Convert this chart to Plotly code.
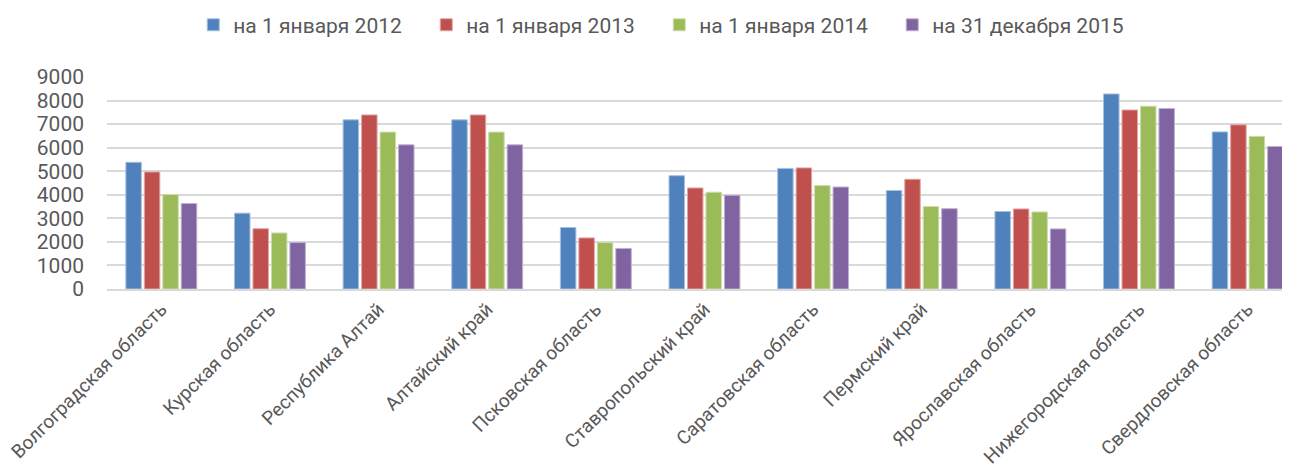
import plotly.graph_objects as go

categories = ["Волгоградская область", "Курская область", "Республика Алтай", "Алтайский край",
              "Псковская область", "Ставропольский край", "Саратовская область", "Пермский край",
              "Ярославская область", "Нижегородская область", "Свердловская область"]
series_names = ["на 1 января 2012", "на 1 января 2013", "на 1 января 2014", "на 31 декабря 2015"]
v2012 = [5380, 3220, 7180, 7180, 2610, 4810, 5120, 4180, 3290, 8280, 6670]
v2013 = [4970, 2560, 7390, 7390, 2170, 4290, 5140, 4660, 3400, 7600, 6970]
v2014 = [4010, 2380, 6660, 6660, 1970, 4110, 4390, 3500, 3270, 7760, 6480]
v2015 = [3630, 1970, 6120, 6120, 1720, 3980, 4330, 3410, 2550, 7660, 6050]
colors = ["#4F81BD", "#C0504D", "#9BBB59", "#8064A2"]
outlines = ["#A7C0DE", "#E0A8A6", "#CDDDAC", "#BFB1D0"]
y_ticks = [0, 1000, 2000, 3000, 4000, 5000, 6000, 7000, 8000, 9000]

fig = go.Figure()
for name, vals, c, oc in zip(series_names, [v2012, v2013, v2014, v2015], colors, outlines):
    fig.add_trace(go.Bar(x=categories, y=vals, name=name, marker=dict(color=c, line=dict(color=oc, width=1))))

font = "Roboto, Arial, sans-serif"
# page body has an 8px margin, so the figure is sized/positioned to compensate
fig.update_layout(
    width=1282, height=463,
    margin=dict(l=99, r=0, t=69, b=182),
    paper_bgcolor="white", plot_bgcolor="white",
    barmode="group", bargap=0.32, bargroupgap=0.16,
    font=dict(family=font, color="#595959", size=20),
    legend=dict(orientation="h", xref="container", yref="container", x=0.508, y=0.963,
                xanchor="center", yanchor="middle", font=dict(size=21, color="#595959"),
                traceorder="normal", entrywidth=188, entrywidthmode="pixels"),
    showlegend=True,
)
fig.update_xaxes(type="category", range=[-0.5, 10.39], tickangle=-45, showgrid=False,
                 showline=True, linecolor="#D9D9D9", linewidth=1.5, ticks="", automargin=False,
                 tickfont=dict(size=19, color="#595959"))
fig.update_yaxes(range=[0, 9000], tickvals=y_ticks, showgrid=True, gridcolor="#D9D9D9", gridwidth=1.5,
                 zeroline=False, showline=False, ticks="", ticklabelstandoff=22, automargin=False,
                 tickfont=dict(size=21, color="#595959"))
fig.write_html("out.html")
